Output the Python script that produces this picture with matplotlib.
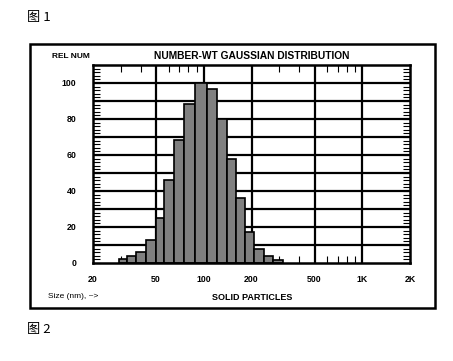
import numpy as np
import matplotlib
matplotlib.use("Agg")
import matplotlib.pyplot as plt
from matplotlib.patches import Rectangle

plt.rcParams['font.family'] = ['Liberation Sans', 'Noto Sans CJK SC', 'DejaVu Sans']

# bin edges (nm) and relative counts
bin_edges = [29, 32.6, 37.3, 43, 49.6, 56.4, 65, 75.3, 88, 104.8, 121,
             139.5, 159, 183, 207.5, 240, 274.5, 317]
rel_num = [2, 4, 6, 13, 25, 46, 68.5, 88.5, 100, 96.5, 80, 58, 36, 17, 8, 4, 1.5]

x_major = [20, 50, 100, 200, 500, 1000, 2000]
x_labels = ['20', '50', '100', '200', '500', '1K', '2K']
x_minor = [30, 40, 60, 70, 80, 90, 300, 400, 600, 700, 800, 900]
y_major = [0, 20, 40, 60, 80, 100]

fig = plt.figure(figsize=(4.53, 3.61), dpi=100)
ax = fig.add_axes([93 / 453, 98 / 361, 317 / 453, 198 / 361])

# grid (behind bars)
for v in range(10, 110, 10):
    ax.axhline(v, color='black', lw=1.6, zorder=1)
for v in x_major[1:-1]:
    ax.axvline(v, color='black', lw=1.6, zorder=1)

edges = np.array(bin_edges)
ax.bar(edges[:-1], rel_num, width=np.diff(edges), align='edge',
       color='#808080', edgecolor='black', lw=1.2, zorder=2)

ax.set_xscale('log')
ax.set_xlim(20, 2000)
ax.set_ylim(0, 110)

ax.set_xticks(x_major)
ax.set_xticklabels(x_labels)
ax.set_xticks(x_minor, minor=True)
ax.xaxis.set_minor_formatter(plt.NullFormatter())
ax.set_yticks(y_major)
ax.set_yticks(np.arange(0, 111, 2), minor=True)

ax.tick_params(axis='x', which='major', length=0, pad=9, labelsize=6.3)
ax.tick_params(axis='x', which='minor', direction='in', length=5, width=0.8,
               top=True, bottom=True)
ax.tick_params(axis='y', which='major', direction='in', length=5, width=0.8,
               left=True, right=True, pad=12, labelsize=6.3)
ax.tick_params(axis='y', which='minor', direction='in', length=5, width=0.8,
               left=True, right=True)
for lab in ax.get_xticklabels() + ax.get_yticklabels():
    lab.set_fontweight('bold')

for s in ax.spines.values():
    s.set_linewidth(1.8)
    s.set_zorder(3)

# outer frame
fig.patches.append(Rectangle((30 / 453, 53 / 361), 405 / 453, 264 / 361,
                             transform=fig.transFigure, fill=False,
                             edgecolor='black', lw=1.8))

fig.text(52 / 453, 1 - 56 / 361, 'REL NUM', fontsize=6, fontweight='bold',
         va='center', ha='left')
fig.text(252 / 453, 1 - 56 / 361, 'NUMBER-WT GAUSSIAN DISTRIBUTION',
         fontsize=7.4, fontweight='bold', va='center', ha='center')
fig.text(48 / 453, 1 - 297 / 361, 'Size (nm), ~>', fontsize=6,
         va='center', ha='left')
fig.text(252 / 453, 1 - 297 / 361, 'SOLID PARTICLES', fontsize=6.5,
         fontweight='bold', va='center', ha='center')

fig.text(27 / 453, 1 - 18 / 361, '图 1', fontsize=9.5, va='center', ha='left',
         family=['Noto Sans CJK SC', 'DejaVu Sans'])
fig.text(27 / 453, 1 - 330 / 361, '图 2', fontsize=9.5, va='center', ha='left',
         family=['Noto Sans CJK SC', 'DejaVu Sans'])

fig.savefig('out.png', dpi=100)
